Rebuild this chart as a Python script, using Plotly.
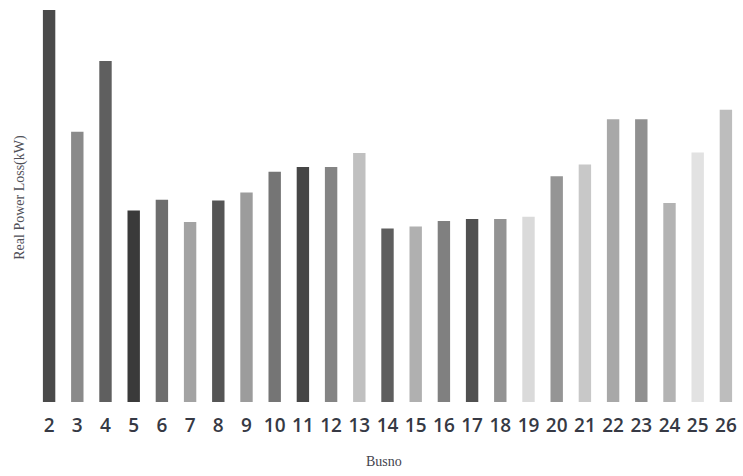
import plotly.graph_objects as go

# Real power loss per bus
buses = [str(b) for b in range(2, 27)]
loss_kw = [39.25, 27.05, 34.15, 19.18, 20.25, 18.02, 20.18, 20.98, 23.05, 23.52,
           23.52, 24.92, 17.38, 17.58, 18.12, 18.32, 18.32, 18.55, 22.60, 23.78,
           28.32, 28.32, 19.92, 24.98, 29.25]
bar_colors = ["#4a4a4a", "#8a8a8a", "#5f5f5f", "#3a3a3a", "#6e6e6e", "#a3a3a3",
              "#555555", "#9c9c9c", "#757575", "#464646", "#848484", "#c0c0c0",
              "#5e5e5e", "#b0b0b0", "#808080", "#505050", "#939393", "#dadada",
              "#959595", "#c8c8c8", "#a8a8a8", "#909090", "#b3b3b3", "#e2e2e2",
              "#bdbdbd"]

W, H = 743, 476
L, R, T, B = 35, 3, 10, 73.5
PW, PH = W - L - R, H - T - B

fig = go.Figure(go.Bar(
    x=buses,
    y=loss_kw,
    marker=dict(color=bar_colors, line=dict(width=0)),
))

fig.update_layout(
    width=W,
    height=H,
    margin=dict(l=L, r=R, t=T, b=B),
    paper_bgcolor="white",
    plot_bgcolor="white",
    bargap=0.56,
    showlegend=False,
    xaxis=dict(
        type="category",
        showgrid=False,
        showline=False,
        zeroline=False,
        ticks="",
        ticklabelstandoff=10,
        tickfont=dict(family="Open Sans", size=19, color="#363944", weight=600),
    ),
    yaxis=dict(
        range=[0, max(loss_kw)],
        showgrid=False,
        showline=False,
        zeroline=False,
        showticklabels=False,
        ticks="",
    ),
    annotations=[
        # x-axis title
        dict(text="Busno", x=(384 - L) / PW, xref="paper",
             y=(H - B - 462) / PH, yref="paper", yanchor="middle",
             xanchor="center", showarrow=False,
             font=dict(family="Liberation Serif", size=14, color="#44444e")),
        # y-axis title
        dict(text="Real Power Loss(kW)", textangle=-90, x=(20 - L) / PW, xref="paper",
             xanchor="center", y=(H - B - 198) / PH, yref="paper", yanchor="middle",
             showarrow=False,
             font=dict(family="Liberation Serif", size=14, color="#505058")),
    ],
)

fig.write_html("out.html")
